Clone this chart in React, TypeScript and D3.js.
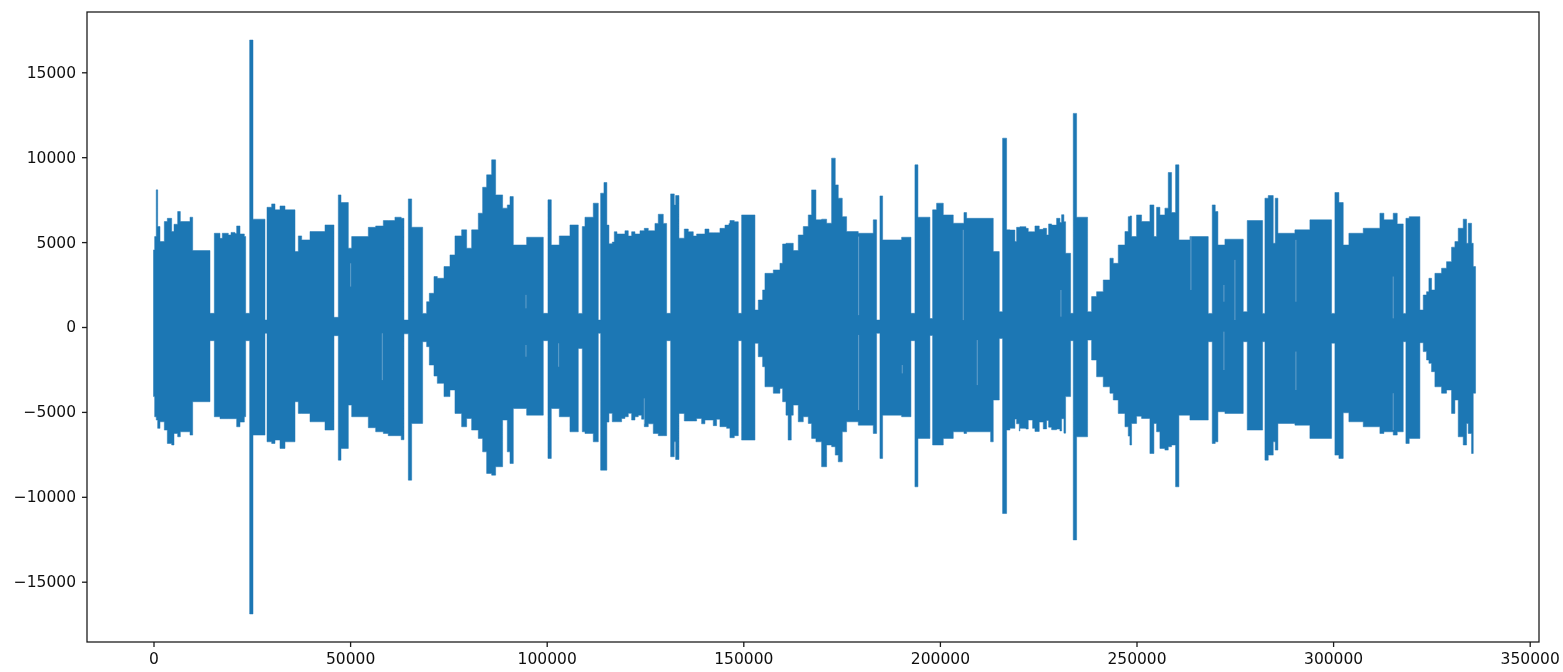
import React, { useEffect, useRef } from "react";
import * as d3 from "d3";

const WIDTH = 1563;
const HEIGHT = 672;
const LINE_COLOR = "#1f77b4";

const xTicks = [0, 50000, 100000, 150000, 200000, 250000, 300000, 350000];
const yTicks = [-15000, -10000, -5000, 0, 5000, 10000, 15000];
const sampleEnd = 336230;

// Each row: first sample of a stretch, highest value, lowest value in that stretch
const envelopeA = [
  [0, 4540, -4100], [296, 5325, -5290], [700, 8076, -5480], [1060, 5915, -5970], [1653, 5030, -5580],
  [2755, 6210, -6070], [3518, 6400, -6860], [4620, 5620, -6950], [5213, 6050, -6270], [6146, 6800, -6465],
  [6824, 6210, -6170], [9282, 6465, -6365], [9960, 4500, -4400], [14368, 805, -805], [15470, 5520, -5285],
  [16910, 5220, -5400], [17500, 5520, -5400], [19030, 5420, -5400], [19710, 5570, -5400], [20725, 5500, -5400],
  [21150, 5950, -5875], [22000, 5480, -5600], [23100, 5330, -5285], [23440, 805, -805], [24457, 16900, -16900],
  [25305, 6350, -6365], [28355, 410, -370], [28864, 7050, -6760], [30050, 7250, -6860], [30900, 6900, -6660],
  [32170, 7130, -7150], [33440, 6900, -6760], [35985, 4440, -4400], [36830, 5365, -5090], [37680, 5130, -5090],
  [39800, 5620, -5580], [43615, 6010, -6070], [45900, 570, -510], [47000, 7780, -7840], [47685, 7330, -7150],
  [49550, 4640, -4600], [50400, 5325, -5285], [54635, 5870, -5930], [56500, 5950, -6170], [58450, 6270, -6270],
  [59700, 6270, -6400], [61400, 6465, -6400], [63000, 6400, -6640], [63700, 410, -400],
  [64810, 7545, -9020], [65655, 5875, -5680], [68450, 800, -865], [69465, 1490, -1160],
];
const envelopeB = [
  [70150, 1985, -2240], [71330, 2970, -2890], [72180, 2870, -3320], [73875, 3560, -4100], [75400, 4245, -3710],
  [76670, 5365, -5090], [78365, 5720, -5875], [79640, 4640, -5385], [80910, 5720, -6070], [82605, 6700, -6560],
  [83705, 8230, -7350], [84725, 8960, -8625], [86000, 9845, -8725], [87010, 7780, -8230], [88790, 7000, -5480],
  [89980, 7190, -7350], [90660, 7680, -8040], [91505, 4830, -4800], [94900, 5285, -5190], [99135, 805, -805],
  [100320, 7490, -7740], [101170, 4830, -4800], [103205, 5365, -5285], [105915, 6010, -6170], [108035, 800, -1260],
  [109055, 5915, -6170], [109730, 6465, -6270], [111850, 7290, -6760], [113120, 410, -370], [113715, 7880, -8430],
  [114560, 8510, -8430], [115300, 6000, -5600], [115833, 4900, -5085], [116680, 5000, -5580], [117190, 5610, -5580],
  [117870, 5480, -5580], [119055, 5480, -5385], [119900, 5670, -5285], [120750, 5360, -5085], [121600, 5610, -5480],
  [122445, 5480, -5285], [123290, 5480, -5190], [123720, 5670, -5190], [124140, 5670, -5430], [124820, 5810, -5870],
  [125836, 5670, -5700], [127108, 5670, -6270], [127530, 6100, -6270], [128380, 6640, -6400], [129650, 6100, -6400],
  [130500, 805, -805], [131520, 7840, -7640], [132450, 7190, -6760], [132790, 7740, -7800], [133640, 5230, -5090],
  [134990, 5770, -5535], [136010, 5610, -5535], [137280, 5360, -5535], [138130, 5480, -5385], [139400, 5480, -5700],
  [140245, 5770, -5480], [141265, 5550, -5480], [142365, 5550, -5810], [143210, 5550, -5430], [144060, 5810, -5870],
  [145335, 6000, -5870], [145760, 6000, -5970], [146350, 6100, -5970], [146600, 6270, -6520], [147710, 6200, -6400],
  [148730, 805, -805], [149575, 6600, -6660], [152965, 1000, -960], [153810, 1590, -1750], [154915, 2180, -2340],
  [155505, 3160, -3520], [157630, 3360, -3900],
];
const envelopeC = [
  [159320, 3750, -3615], [160000, 4890, -4400], [160850, 4930, -5190], [161400, 4930, -6660], [162200, 4930, -5190],
  [162710, 4500, -4600], [163980, 5420, -5580], [165255, 5915, -5285], [166525, 6600, -5680], [167375, 8075, -6560],
  [168475, 6310, -6760], [169915, 6350, -8230], [171190, 6110, -6950], [172460, 9945, -7050], [173390, 8370, -7545],
  [174155, 7585, -7940], [175170, 6500, -6170], [176275, 5620, -5580], [179240, 5520, -5780], [183055, 6310, -6270],
  [183905, 410, -370], [184750, 7720, -7740], [185430, 5130, -5190], [190260, 5285, -5285], [192635, 805, -805],
  [193650, 9550, -9410], [194415, 6465, -6560], [197465, 500, -500], [198145, 6900, -6950], [199160, 7290, -6950],
  [200860, 6600, -6560], [203400, 6110, -6170], [206115, 6740, -6270], [206790, 6400, -6170], [212900, 6400, -6760],
  [213570, 4440, -4300], [215100, 900, -670], [215945, 11120, -10985], [216965, 5720, -6070], [217810, 5710, -5970],
  [219080, 5030, -5420], [219505, 5870, -5700], [220185, 5870, -6125], [220355, 5910, -5970], [221880, 5810, -6010],
  [222470, 5610, -5480], [223575, 5610, -5970], [224170, 5950, -6150], [225270, 5750, -5600], [226290, 5810, -6000],
  [227135, 5420, -5500], [227645, 6070, -5900], [228405, 6000, -6050], [229680, 6400, -6010], [230525, 6150, -6120],
  [230950, 6615, -5400], [231540, 6200, -6250], [231967, 4340, -4100], [233240, 805, -805], [233915, 12580, -12540],
  [234765, 6465, -6465], [237560, 900, -770], [238580, 1790, -1945], [239850, 2080, -2930], [241545, 2770, -3520],
  [243240, 4050, -3900], [244090, 3750, -4300], [245360, 4830, -5090], [247060, 5620, -5875], [247905, 6500, -6425],
];
const envelopeD = [
  [248325, 6540, -6950], [248750, 5325, -5680], [250020, 6600, -5250], [251290, 6210, -5385], [253410, 7190, -7450],
  [254430, 5325, -5680], [255105, 7050, -6170], [255955, 6600, -7150], [257225, 7000, -7250], [258075, 9100, -7050],
  [258920, 6740, -6950], [259940, 9550, -9410], [260785, 5130, -5190], [263585, 5325, -5480], [268245, 800, -865],
  [269265, 7190, -6860], [270025, 6800, -6760], [270705, 4830, -4990], [272485, 5170, -5090], [277145, 900, -865],
  [278165, 6270, -6070], [282065, 800, -865], [282660, 7585, -7840], [283505, 7740, -7545], [284775, 4930, -6760],
  [285285, 7585, -7250], [285965, 5520, -5680], [290285, 5720, -5780], [294100, 6310, -6560], [299610, 800, -950],
  [300460, 7920, -7545], [301475, 7330, -7740], [302575, 4830, -5050], [304015, 5520, -5580], [307665, 5815, -5875],
  [311900, 6700, -6270], [312920, 6310, -6170], [315290, 6700, -6365], [316310, 6070, -6170], [317835, 800, -865],
  [318515, 6400, -6860], [319360, 6500, -6560], [322075, 1000, -925], [322925, 1885, -1450], [323770, 2080, -1945],
  [324365, 2870, -2140], [325040, 2180, -2630], [325890, 3160, -3520], [327585, 3460, -3900], [328855, 3850, -3710],
  [330125, 4700, -5090], [330975, 5030, -4300], [331825, 5815, -6465], [333095, 6350, -6950], [333940, 4930, -5680],
  [334365, 6110, -6270], [335215, 4930, -7450], [335640, 3560, -3900],
];

// Thin paler streaks inside the solid mass: sample, from value, to value
const streaks = [
  [50140, 3750, 2380], [58195, -370, -3125], [94730, 1890, 1100], [94730, -1060, -1750], [103035, -960, -2340],
  [124820, -4200, -5700], [179325, 5325, 700], [179325, -470, -4890], [190430, -2240, -2730], [205945, 5720, 410],
  [209505, -770, -3420], [230780, 2180, 610], [263840, 5325, 2180], [272230, 2475, 1490], [272230, -275, -2535],
  [275030, 3950, 410], [290540, 5130, 1490], [290540, -1450, -3710], [315295, 2970, 510], [315295, -3900, -6070],
];

export default function App() {
  const ref = useRef<SVGSVGElement | null>(null);
  useEffect(() => {
    const svg = d3.select(ref.current!);
    svg.selectAll("*").remove();
    const x = d3.scaleLinear().domain([-16913, 352365]).range([87, 1539]);
    const y = d3.scaleLinear().domain([-18551, 18551]).range([642, 12]);

    svg
      .append("defs")
      .append("filter")
      .attr("id", "soft")
      .attr("x", "-2%")
      .attr("y", "-2%")
      .attr("width", "104%")
      .attr("height", "104%")
      .append("feGaussianBlur")
      .attr("stdDeviation", 0.5);

    const root = svg.append("g").attr("filter", "url(#soft)");

    const rows = [...envelopeA, ...envelopeB, ...envelopeC, ...envelopeD, [sampleEnd, 3560, -3900]];
    const area = d3
      .area<number[]>()
      .x((d) => x(d[0]))
      .y0((d) => y(d[2]))
      .y1((d) => y(d[1]))
      .curve(d3.curveStepAfter);

    root
      .append("path")
      .attr("d", area(rows)!)
      .attr("fill", LINE_COLOR)
      .attr("stroke", LINE_COLOR)
      .attr("stroke-width", 0.5)
      .attr("stroke-linejoin", "round");

    root
      .append("g")
      .selectAll("line")
      .data(streaks)
      .join("line")
      .attr("x1", (d) => x(d[0]))
      .attr("x2", (d) => x(d[0]))
      .attr("y1", (d) => y(d[1]))
      .attr("y2", (d) => y(d[2]))
      .attr("stroke", "#ffffff")
      .attr("stroke-opacity", 0.3)
      .attr("stroke-width", 1);

    root
      .append("rect")
      .attr("x", 87)
      .attr("y", 12)
      .attr("width", 1452)
      .attr("height", 630)
      .attr("fill", "none")
      .attr("stroke", "#1a1a1a")
      .attr("stroke-width", 1.3);

    const xAxis = d3
      .axisBottom(x)
      .tickValues(xTicks)
      .tickSize(5)
      .tickPadding(6)
      .tickFormat((d) => String(d));
    const yAxis = d3
      .axisLeft(y)
      .tickValues(yTicks)
      .tickSize(5)
      .tickPadding(6)
      .tickFormat((d) => String(d).replace("-", "\u2212"));

    const gx = root.append("g").attr("transform", "translate(0,642)").call(xAxis);
    const gy = root.append("g").attr("transform", "translate(87,0)").call(yAxis);
    [gx, gy].forEach((g) => {
      g.select(".domain").remove();
      g.selectAll("line").attr("stroke", "#1a1a1a").attr("stroke-width", 1.3);
      g.selectAll("text")
        .attr("fill", "#111111")
        .style("font-family", "'DejaVu Sans', sans-serif")
        .style("font-size", "15.5px");
    });
  }, []);

  return (
    <svg
      ref={ref}
      width={WIDTH}
      height={HEIGHT}
      style={{ position: "absolute", left: 0, top: 0, background: "#fff" }}
    />
  );
}
